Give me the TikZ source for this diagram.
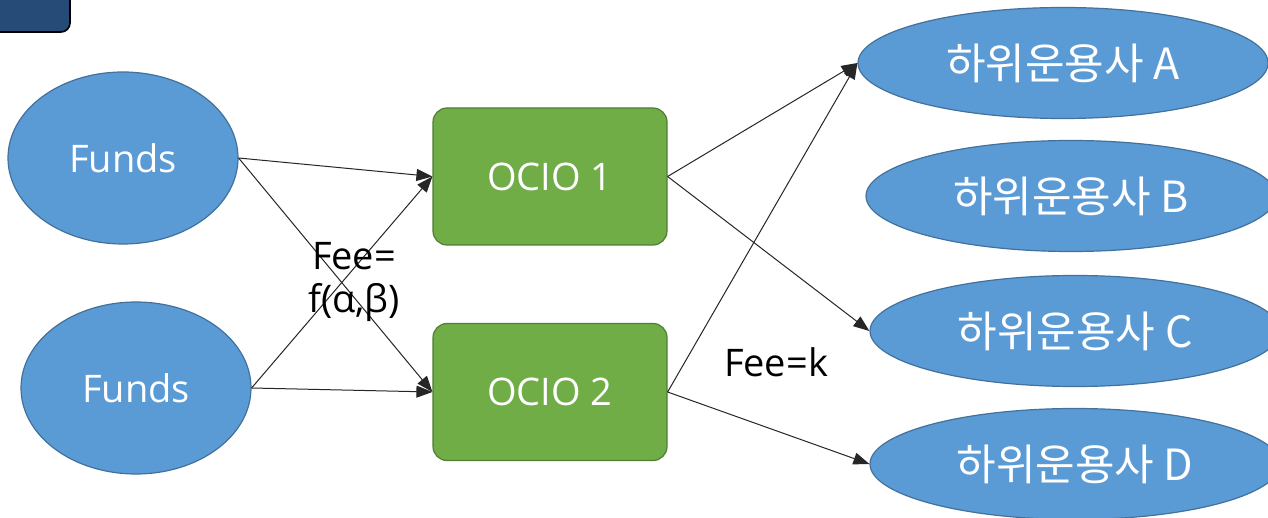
\documentclass[tikz,border=0pt]{standalone}
\usepackage{fontspec}
\setmainfont{Open Sans}
\newfontfamily\kr{Noto Sans CJK KR}
\usetikzlibrary{shapes.geometric,arrows.meta}
\definecolor{eblue}{HTML}{5B9BD5}
\definecolor{eblueb}{HTML}{41719C}
\definecolor{ogreen}{HTML}{70AD47}
\definecolor{ogreenb}{HTML}{507E32}
\definecolor{navy}{HTML}{264B77}
\tikzset{
  fundnode/.style={ellipse, fill=eblue, draw=eblueb, line width=1.2pt, minimum width=230pt, minimum height=172pt, text=white, font=\fontsize{38}{44}\selectfont, inner sep=0pt},
  subnode/.style={ellipse, fill=eblue, draw=eblueb, line width=1.2pt, minimum width=410pt, minimum height=111pt, text=white, font=\kr\fontsize{43}{48}\selectfont, inner sep=0pt},
  ocionode/.style={rectangle, rounded corners=14pt, fill=ogreen, draw=ogreenb, line width=1.2pt, minimum width=234pt, minimum height=137pt, text=white, font=\fontsize{38}{44}\selectfont, inner sep=0pt},
  flow/.style={draw=black!85, line width=1pt, -{Triangle[length=16pt,width=12pt]}},
  lbl/.style={font=\fontsize{38}{43}\selectfont, text=black, inner sep=0pt}
}
\begin{document}
\begin{tikzpicture}[x=1pt,y=-1pt]
\useasboundingbox (0,0) rectangle (1268,518);
\fill[white] (0,0) rectangle (1268,518);
\draw[fill=navy, draw=black, line width=1.6pt, rounded corners=9pt] (-30,-30) rectangle (70,32);

\node[fundnode] (f1) at (123,158) {Funds};
\node[fundnode] (f2) at (136,388) {Funds};
\node[ocionode] (o1) at (550,176.5) {OCIO 1};
\node[ocionode] (o2) at (550,392) {OCIO 2};
\node[subnode] (a) at (1063,63) {하위운용사 A};
\node[subnode] (b) at (1071,196) {하위운용사 B};
\node[subnode] (c) at (1075,331) {하위운용사 C};
\node[subnode] (d) at (1075,464) {하위운용사 D};

\draw[flow] (f1.east) -- (o1.west);
\draw[flow] (f1.east) -- (o2.west);
\draw[flow] (f2.east) -- (o1.west);
\draw[flow] (f2.east) -- (o2.west);
\draw[flow] (o1.east) -- (a.west);
\draw[flow] (o1.east) -- (c.west);
\draw[flow] (o2.east) -- (a.west);
\draw[flow] (o2.east) -- (d.west);

\node[lbl, align=center] (fee1) at (354,282) {Fee=\\f(α,β)};
\node[lbl] (fee2) at (776,362) {Fee=k};
\end{tikzpicture}
\end{document}
